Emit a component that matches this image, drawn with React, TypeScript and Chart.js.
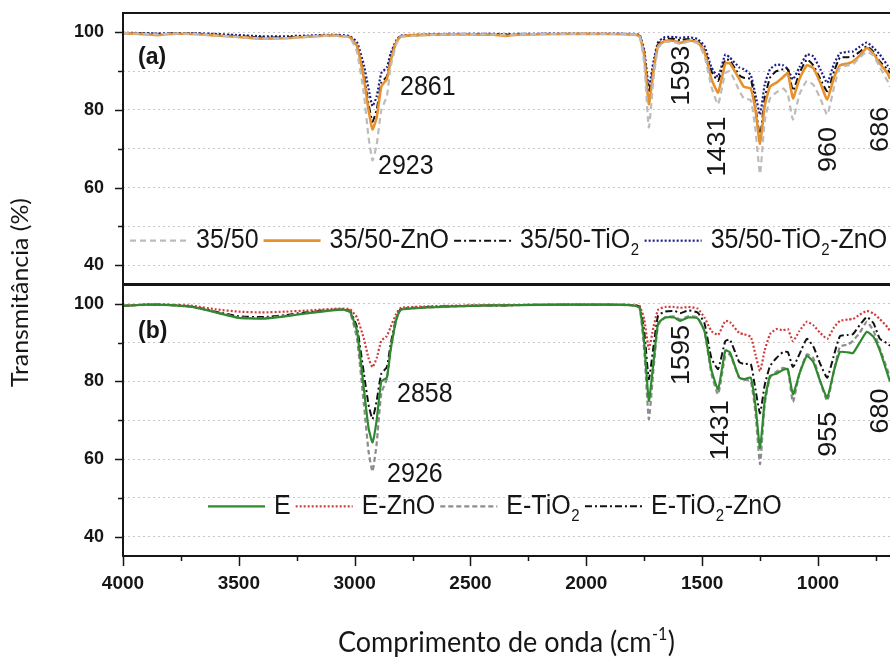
import React, { useEffect, useRef } from 'react';
import { Chart, registerables } from 'chart.js';

Chart.register(...registerables);

// ---------------- data ----------------
const wavenumber = [4000, 3900, 3850, 3800, 3700, 3600, 3500, 3400, 3300, 3200, 3100, 3050, 3020, 2990, 2960, 2940, 2923, 2905, 2885, 2861, 2845, 2820, 2800, 2600, 2400, 2350, 2300, 2100, 1900, 1800, 1770, 1750, 1730, 1710, 1690, 1660, 1620, 1595, 1560, 1520, 1490, 1460, 1431, 1400, 1380, 1340, 1320, 1290, 1270, 1250, 1230, 1207, 1180, 1150, 1130, 1108, 1080, 1048, 1020, 990, 960, 930, 905, 870, 849, 820, 789, 760, 733, 700, 689];

// panel (a)
const a3550 = [99.8, 99.6, 99.5, 99.7, 99.6, 99.2, 98.8, 98.4, 98.5, 98.9, 99.2, 99.0, 98.6, 95, 84, 73, 67, 71, 80, 83.5, 91, 97, 98.8, 99.5, 99.5, 99.3, 99.5, 99.6, 99.6, 99.5, 99, 92, 75.5, 88, 96, 97.5, 97.5, 97, 97.6, 97.2, 94, 86, 81.5, 89.5, 90, 85, 83, 82.5, 75, 63.5, 77, 83, 84.5, 85.5, 84, 77.5, 84, 87.5, 86.5, 83, 78.8, 86, 91, 91.5, 91.7, 93.5, 95, 94, 91, 87.5, 86];
const a3550ZnO = [99.8, 99.5, 99.3, 99.6, 99.6, 99.2, 98.8, 98.4, 98.5, 98.9, 99.2, 99.0, 98.7, 96.5, 88, 80, 75, 78, 86, 88, 92.5, 97.5, 99, 99.5, 99.4, 99.1, 99.4, 99.6, 99.6, 99.5, 99, 94, 81.5, 90, 96.5, 97.8, 97.8, 97.3, 97.9, 97.5, 95, 88, 84.5, 92, 92, 88, 86, 85.5, 80, 71.3, 81, 86, 87, 88.5, 89.5, 83, 88, 91.5, 90.8, 87, 82.7, 88.5, 91.5, 92, 92.5, 94, 96, 94.5, 92, 89.5, 88];
const a3550TiO2 = [99.8, 99.7, 99.6, 99.7, 99.7, 99.4, 99.0, 98.7, 98.7, 99, 99.3, 99.1, 98.8, 96.5, 89, 81.5, 77, 80, 87, 88.7, 93.5, 97.5, 99, 99.5, 99.5, 99.4, 99.5, 99.6, 99.6, 99.5, 99.1, 94.5, 84.5, 91, 97, 98.3, 98.3, 98, 98.3, 97.8, 95.5, 90, 87.5, 93, 92.8, 89, 88.3, 88, 81, 73.2, 83, 88.3, 90, 90.5, 90.5, 85, 89.5, 93, 91.5, 88, 84.8, 90, 93.5, 93.6, 93.8, 95, 96.4, 95, 92.5, 90.5, 89.5];
const a3550TiO2ZnO = [99.9, 99.8, 99.7, 99.8, 99.8, 99.6, 99.3, 99.0, 99.0, 99.2, 99.4, 99.3, 99.0, 97.5, 91.5, 85.5, 81, 83.5, 89.5, 91, 94.5, 98, 99.2, 99.6, 99.6, 99.5, 99.6, 99.7, 99.7, 99.6, 99.3, 95.5, 86, 92.5, 97.5, 98.8, 98.8, 98.6, 98.8, 98.3, 96.5, 91, 88.6, 94.3, 93.5, 91, 90.5, 89, 84, 78.8, 86.5, 90.5, 91.7, 91.5, 90.5, 87.9, 91, 94.3, 93.8, 90.5, 87, 92, 94.6, 95, 95.1, 96.3, 97.4, 96, 94.3, 91.5, 90.5];

// panel (b)
const bE = [99.5, 99.8, 99.8, 99.7, 99.2, 97.8, 96.4, 96.2, 96.8, 97.6, 98.3, 98.5, 98, 93, 78, 68, 64.3, 70, 80, 81, 88, 96, 98.5, 99.3, 99.6, 99.6, 99.7, 99.8, 99.8, 99.6, 99, 90, 75, 85, 95, 96.5, 96.5, 95.6, 96.5, 96.3, 93, 83, 78, 88, 87.5, 81, 80.6, 81, 74, 62.8, 75, 81.4, 82, 83, 83.2, 76.7, 82, 86.6, 85, 80, 75.8, 83, 87.6, 87.5, 87.3, 90, 92.8, 91.5, 88, 82, 80];
const bEZnO = [99.5, 99.8, 99.8, 99.8, 99.5, 98.6, 98, 97.8, 98, 98.3, 98.7, 98.8, 98.6, 96.5, 91, 86, 83.7, 86, 90.5, 91.7, 94, 97.5, 99, 99.5, 99.7, 99.7, 99.7, 99.8, 99.8, 99.7, 99.5, 96, 88.4, 94, 98.5, 99.2, 99.2, 99, 99.2, 98.8, 96.5, 93, 92, 95.6, 95.3, 92.5, 92.2, 91.5, 87, 82.7, 88, 92.2, 93.5, 93.2, 93.5, 90.4, 93, 95.4, 94.5, 92.5, 91, 94, 95.6, 96, 96.1, 97.2, 98.2, 97.5, 96.1, 94, 93];
const bETiO2 = [99.5, 99.8, 99.8, 99.7, 99.2, 97.9, 96.5, 96.3, 96.9, 97.7, 98.4, 98.5, 97.8, 91, 74, 62, 56.8, 64, 77, 80.6, 88, 96, 98.5, 99.3, 99.6, 99.6, 99.7, 99.8, 99.8, 99.6, 99, 88, 70.3, 83, 94.5, 96.5, 96.8, 96, 96.8, 96.5, 93, 82, 76.7, 86.6, 87, 81, 80.5, 80, 72, 58.7, 74, 81, 82.5, 83.5, 83, 74.7, 82, 87, 86, 80, 75, 83, 89, 89.5, 90.5, 92.5, 95.4, 93, 88.5, 83, 81.4];
const bETiO2ZnO = [99.5, 99.8, 99.8, 99.7, 99.3, 98.0, 96.8, 96.6, 97.1, 97.9, 98.5, 98.6, 98.2, 94, 82, 74, 70.3, 75, 82, 83.7, 89.5, 96.5, 98.7, 99.4, 99.6, 99.6, 99.7, 99.8, 99.8, 99.7, 99.3, 93, 80.6, 89, 97, 98, 98.2, 97.6, 98.3, 97.8, 95, 86, 83.2, 90.4, 90.8, 85, 84.5, 84.5, 78, 71.8, 79, 84, 86, 87.6, 87.6, 83.7, 87, 91, 89, 84.5, 81, 87, 91.7, 92, 92.2, 94.5, 96.6, 95, 91, 89.8, 89.2];

// ticks
const xTickValues = [4000, 3750, 3500, 3250, 3000, 2750, 2500, 2250, 2000, 1750, 1500, 1250, 1000, 750];
const xTickLabels = [4000, 3500, 3000, 2500, 2000, 1500, 1000];
const yGridValues = [40, 50, 60, 70, 80, 90, 100];
const yTickLabels = [40, 60, 80, 100];

// peak annotations (text, wavenumber, transmittance, vertical)
const peaksA = [
  { text: '2861', wn: 2804, t: 85.7, vertical: false },
  { text: '2923', wn: 2899, t: 65.4, vertical: false },
  { text: '1593', wn: 1587, t: 88.9, vertical: true },
  { text: '1431', wn: 1432, t: 70.6, vertical: true },
  { text: '960', wn: 953, t: 69.8, vertical: true },
  { text: '686', wn: 726, t: 75, vertical: true },
];
const peaksB = [
  { text: '2858', wn: 2817, t: 76.7, vertical: false },
  { text: '2926', wn: 2860, t: 56.1, vertical: false },
  { text: '1595', wn: 1587, t: 86.8, vertical: true },
  { text: '1431', wn: 1419, t: 67.4, vertical: true },
  { text: '955', wn: 953, t: 66.4, vertical: true },
  { text: '680', wn: 726, t: 72.4, vertical: true },
];

// ---------------- helpers ----------------
const SY = 1.08;
const ARIAL = '"Liberation Sans", Arial, Helvetica, sans-serif';
const TEXT_FONT = `25px ${ARIAL}`;
const SUB_FONT = `15px ${ARIAL}`;
const YTITLE_FONT = '23px Lato, "Open Sans", sans-serif';
const XTITLE_FONT = '27px Lato, "Open Sans", sans-serif';
const XTITLE_SUP = '16px Lato, "Open Sans", sans-serif';
const INK = '#161616';

const pts = (arr: number[]) => arr.map((y, i) => ({ x: wavenumber[i], y }));

function drawText(ctx: CanvasRenderingContext2D, text: string, x: number, y: number, font: string, align: CanvasTextAlign, vertical = false) {
  ctx.save();
  ctx.translate(x, y);
  ctx.scale(1, SY);
  if (vertical) ctx.rotate(-Math.PI / 2);
  ctx.font = font;
  ctx.fillStyle = INK;
  ctx.textAlign = align;
  ctx.textBaseline = 'middle';
  ctx.fillText(text, 0, 0);
  ctx.restore();
}

function drawRich(ctx: CanvasRenderingContext2D, label: string, x: number, y: number): number {
  const parts = label.split('\u2082');
  ctx.save();
  ctx.translate(x, y);
  ctx.scale(1, SY);
  ctx.fillStyle = INK;
  ctx.textAlign = 'left';
  ctx.textBaseline = 'middle';
  let cx = 0;
  parts.forEach((p, i) => {
    ctx.font = TEXT_FONT;
    ctx.fillText(p, cx, 0);
    cx += ctx.measureText(p).width;
    if (i < parts.length - 1) {
      ctx.font = SUB_FONT;
      ctx.fillText('2', cx + 0.5, 9);
      cx += ctx.measureText('2').width + 1;
    }
  });
  ctx.restore();
  return x + cx;
}

function drawLegend(ctx: CanvasRenderingContext2D, chart: any, indices: number[], startX: number, y: number) {
  let x = startX;
  for (const idx of indices) {
    const ds = chart.data.datasets[idx];
    ctx.save();
    ctx.strokeStyle = ds.borderColor;
    ctx.lineWidth = ds.borderWidth;
    ctx.setLineDash(ds.borderDash || []);
    ctx.beginPath();
    ctx.moveTo(x, y);
    ctx.lineTo(x + 57, y);
    ctx.stroke();
    ctx.restore();
    x += 57 + 9;
    x = drawRich(ctx, ds.label, x, y);
    x += 5;
  }
}

const overlay = {
  id: 'overlay',
  afterDraw(chart: any) {
    const ctx: CanvasRenderingContext2D = chart.ctx;
    const { left, right, top, bottom } = chart.chartArea;
    const xs = chart.scales.x;
    const ya = chart.scales.yA;
    const yb = chart.scales.yB;

    // tick marks
    ctx.save();
    ctx.strokeStyle = INK;
    ctx.lineWidth = 1.5;
    ctx.beginPath();
    for (const ys of [ya, yb]) {
      for (const v of yGridValues) {
        const py = Math.round(ys.getPixelForValue(v)) + 0.5;
        const len = yTickLabels.includes(v) ? 8 : 5;
        ctx.moveTo(left - len, py);
        ctx.lineTo(left, py);
      }
    }
    for (const v of xTickValues) {
      const px = Math.round(xs.getPixelForValue(v)) + 0.5;
      if (px > right) continue;
      const len = xTickLabels.includes(v) ? 10 : 5;
      ctx.moveTo(px, bottom);
      ctx.lineTo(px, bottom + len);
    }
    ctx.stroke();
    ctx.restore();

    // frames
    const mid = Math.min(ya.bottom, yb.bottom);
    ctx.save();
    ctx.strokeStyle = INK;
    ctx.lineWidth = 2;
    ctx.beginPath();
    ctx.moveTo(right + 2, top);
    ctx.lineTo(left, top);
    ctx.lineTo(left, bottom);
    ctx.lineTo(right + 2, bottom);
    ctx.stroke();
    ctx.lineWidth = 3;
    ctx.beginPath();
    ctx.moveTo(left, mid);
    ctx.lineTo(right + 2, mid);
    ctx.stroke();
    ctx.restore();

    // panel labels
    drawText(ctx, '(a)', left + 15, ya.getPixelForValue(93.5), `bold 23px ${ARIAL}`, 'left');
    drawText(ctx, '(b)', left + 15, yb.getPixelForValue(93), `bold 23px ${ARIAL}`, 'left');

    // peak annotations
    for (const [ys, list] of [[ya, peaksA], [yb, peaksB]] as any) {
      for (const p of list) {
        const px = xs.getPixelForValue(p.wn);
        const py = ys.getPixelForValue(p.t);
        drawText(ctx, p.text, px, py, TEXT_FONT, p.vertical ? 'center' : 'left', p.vertical);
      }
    }

    // legends
    drawLegend(ctx, chart, [0, 1, 2, 3], left + 7, ya.getPixelForValue(46.3));
    drawLegend(ctx, chart, [4, 5, 6, 7], left + 85, yb.getPixelForValue(47.8));

    // y title
    drawText(ctx, 'Transmitância (%)', 21, (top + bottom) / 2 + 8, YTITLE_FONT, 'center', true);

    // x title with superscript
    const main = 'Comprimento de onda (cm';
    const sup = '-1';
    const end = ')';
    ctx.save();
    ctx.font = XTITLE_FONT;
    const w1 = ctx.measureText(main).width;
    const w3 = ctx.measureText(end).width;
    ctx.font = XTITLE_SUP;
    const w2 = ctx.measureText(sup).width;
    const total = w1 + w2 + w3 + 1;
    const cx = (left + right) / 2;
    const ty = 643;
    let x0 = cx - total / 2;
    ctx.translate(0, ty);
    ctx.scale(1, SY);
    ctx.fillStyle = INK;
    ctx.textAlign = 'left';
    ctx.textBaseline = 'middle';
    ctx.font = XTITLE_FONT;
    ctx.fillText(main, x0, 0);
    x0 += w1;
    ctx.font = XTITLE_SUP;
    ctx.fillText(sup, x0 + 0.5, -8);
    x0 += w2 + 1;
    ctx.font = XTITLE_FONT;
    ctx.fillText(end, x0, 0);
    ctx.restore();
  },
};

const tickFont = { family: '"Liberation Sans", Arial, sans-serif', size: 18, weight: 'bold' as const };

function yScale() {
  return {
    type: 'linear' as const,
    position: 'left' as const,
    stack: 'panels',
    stackWeight: 1,
    min: 35,
    max: 105,
    afterBuildTicks: (s: any) => {
      s.ticks = yGridValues.map((v) => ({ value: v }));
    },
    afterFit: (s: any) => {
      s.width = 123;
      s.paddingTop = 0;
      s.paddingBottom = 0;
    },
    ticks: {
      padding: 19,
      color: INK,
      font: tickFont,
      callback: (v: any) => (yTickLabels.includes(Number(v)) ? String(v) : ''),
    },
    grid: { color: '#c8c8c8', lineWidth: 1, drawTicks: false },
    border: { display: false, dash: [2, 3] },
  };
}

export default function App() {
  const ref = useRef<HTMLCanvasElement>(null);

  useEffect(() => {
    const canvas = ref.current;
    if (!canvas) return;
    const chart = new Chart(canvas, {
      type: 'line',
      data: {
        datasets: [
          { label: '35/50', data: pts(a3550), yAxisID: 'yA', borderColor: '#bcbcbc', borderWidth: 2.2, borderDash: [6, 4] },
          { label: '35/50-ZnO', data: pts(a3550ZnO), yAxisID: 'yA', borderColor: '#e8912c', borderWidth: 2.6 },
          { label: '35/50-TiO\u2082', data: pts(a3550TiO2), yAxisID: 'yA', borderColor: '#111111', borderWidth: 2, borderDash: [7, 3, 2, 3] },
          { label: '35/50-TiO\u2082-ZnO', data: pts(a3550TiO2ZnO), yAxisID: 'yA', borderColor: '#1c1c8a', borderWidth: 2.2, borderDash: [2, 2] },
          { label: 'E', data: pts(bE), yAxisID: 'yB', borderColor: '#2f8a2f', borderWidth: 2.2 },
          { label: 'E-ZnO', data: pts(bEZnO), yAxisID: 'yB', borderColor: '#d03c3c', borderWidth: 2.2, borderDash: [2, 2] },
          { label: 'E-TiO\u2082', data: pts(bETiO2), yAxisID: 'yB', borderColor: '#8c8c8c', borderWidth: 2.2, borderDash: [5, 3] },
          { label: 'E-TiO\u2082-ZnO', data: pts(bETiO2ZnO), yAxisID: 'yB', borderColor: '#111111', borderWidth: 2, borderDash: [7, 3, 2, 3] },
        ] as any,
      },
      options: {
        animation: false,
        responsive: false,
        devicePixelRatio: 1,
        layout: { padding: { top: 13, left: 0, right: 0, bottom: 0 } },
        plugins: { legend: { display: false }, tooltip: { enabled: false } },
        elements: { point: { radius: 0 }, line: { tension: 0.15 } },
        scales: {
          x: {
            type: 'linear',
            reverse: true,
            min: 689,
            max: 4000,
            afterBuildTicks: (s: any) => {
              s.ticks = xTickValues.map((v) => ({ value: v }));
            },
            afterFit: (s: any) => {
              s.height = 105;
              s.paddingLeft = 0;
              s.paddingRight = 0;
            },
            ticks: {
              autoSkip: false,
              maxRotation: 0,
              padding: 16,
              color: INK,
              font: { ...tickFont, size: 19 },
              callback: (v: any) => (xTickLabels.includes(Number(v)) ? String(v) : ''),
            },
            grid: { drawOnChartArea: false, drawTicks: false },
            border: { display: false },
          },
          // stacked left axes: the one listed first is placed at the bottom
          yB: yScale(),
          yA: yScale(),
        } as any,
      },
      plugins: [overlay],
    });
    return () => chart.destroy();
  }, []);

  return (
    <div style={{ position: 'fixed', left: 0, top: 0, width: 890, height: 661, background: '#fff' }}>
      <canvas ref={ref} width={890} height={661} style={{ display: 'block', width: 890, height: 661 }} />
    </div>
  );
}
